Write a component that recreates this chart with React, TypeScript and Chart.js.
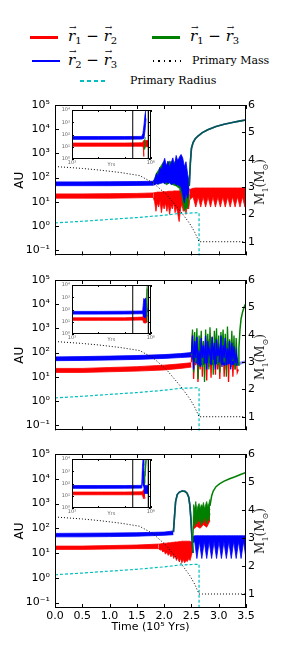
import React, { useEffect, useRef } from 'react';
import { Chart, registerables } from 'chart.js';

Chart.register(...registerables);
Chart.defaults.font.family = "'DejaVu Sans', sans-serif";
Chart.defaults.color = '#000';

// ---------------- axis ticks ----------------
const timeTickValues = [0, 0.5, 1, 1.5, 2, 2.5, 3, 3.5];
const auTickValues = [0.1, 1, 10, 100, 1000, 10000, 100000];
const auTickLabels = ['10⁻¹', '10⁰', '10¹', '10²', '10³', '10⁴', '10⁵'];
const massTickValues = [1, 2, 3, 4, 5, 6];
const insetAuTicks = [1, 10, 100, 1000, 10000];
const insetAuLabels = ['10⁰', '10¹', '10²', '10³', '10⁴'];
const insetYrTicks = [1e3, 1e6];
const insetYrLabels = ['10³', '10⁶'];
const insetYrMinorTicks = [1e3, 1e4, 1e5, 1e6];
const insetRectYrs = [2.05e5, 8.1e5];

// ---------------- shared primary star ----------------
const massT = [0, 0.5, 0.82, 1.2, 1.55, 1.8, 2.04, 2.29, 2.47, 2.56, 2.64, 2.7, 3.0, 3.5];
const massSun = [3.75, 3.68, 3.62, 3.53, 3.42, 3.15, 2.73, 2.14, 1.66, 1.35, 1.0, 1.0, 1.0, 1.0];
const radiusT = [0, 0.5, 1.0, 1.5, 2.0, 2.3, 2.64, 2.64];
const radiusAU = [1.32, 1.55, 1.85, 2.2, 2.75, 3.3, 3.5, 0.01];

// ---------------- panel 1 ----------------
const p1RedCalmT = [0, 0.5, 1.0, 1.5, 1.8];
const p1RedCalmLo = [14, 14, 14, 14.5, 15];
const p1RedCalmHi = [21, 21, 21.5, 22, 23];
const p1RedChaosT = [1.8, 1.825, 1.85, 1.875, 1.9, 1.925, 1.95, 1.975, 2.0, 2.025, 2.05, 2.075, 2.1, 2.125, 2.15, 2.175, 2.2, 2.225, 2.25, 2.275, 2.3, 2.325, 2.35, 2.375, 2.4, 2.425, 2.45, 2.47];
const p1RedChaosLo = [15, 10, 4, 9, 6, 11, 3.5, 8, 5, 9, 4, 8, 3, 7, 5, 9, 3.5, 6, 3, 1.5, 5, 8, 4, 10, 3, 8, 5, 12];
const p1RedChaosHi = [23, 24, 24, 25, 25, 25, 25, 26, 26, 26, 26, 27, 27, 27, 27, 28, 28, 28, 28, 28, 29, 30, 70, 160, 50, 30, 30, 32];
const p1RedSawT = [2.47, 2.53, 2.58, 2.625, 2.67, 2.715, 2.76, 2.805, 2.85, 2.895, 2.94, 2.985, 3.03, 3.075, 3.12, 3.165, 3.21, 3.255, 3.3, 3.345, 3.39, 3.435, 3.48, 3.5];
const p1RedSawLo = [12, 16, 6, 16, 6, 16, 6, 16, 6, 16, 6, 16, 6, 16, 6, 16, 6, 16, 6, 16, 6, 16, 6, 12];
const p1RedSawHi = [32, 36, 37, 37, 37, 37, 37, 37, 37, 37, 37, 37, 37, 37, 37, 37, 37, 37, 37, 37, 37, 37, 37, 37];
const p1BlueCalmT = [0, 0.5, 1.0, 1.5, 1.8];
const p1BlueCalmLo = [46, 46, 46, 47, 48];
const p1BlueCalmHi = [66, 66, 67, 68, 70];
const p1BlueChaosT = [1.8, 1.83, 1.86, 1.89, 1.92, 1.95, 1.98, 2.01, 2.04, 2.07, 2.1, 2.13, 2.16, 2.19, 2.22, 2.25, 2.28, 2.31, 2.34, 2.37, 2.4, 2.43, 2.46];
const p1BlueChaosLo = [48, 50, 55, 52, 60, 58, 62, 55, 66, 58, 62, 50, 56, 60, 48, 52, 45, 40, 20, 9, 25, 14, 35];
const p1BlueChaosHi = [70, 90, 150, 110, 260, 200, 380, 620, 300, 480, 260, 420, 650, 300, 820, 480, 700, 900, 650, 280, 450, 140, 60];
const p1GreenChaosT = [1.2, 1.5, 1.8, 1.86, 1.92, 1.98, 2.04, 2.1, 2.16, 2.22, 2.28, 2.32, 2.35, 2.37, 2.39, 2.41, 2.43, 2.46];
const p1GreenChaosLo = [50, 52, 55, 60, 55, 70, 50, 60, 50, 45, 35, 20, 8, 4, 5, 6, 5, 20];
const p1GreenChaosHi = [56, 58, 62, 150, 250, 420, 300, 480, 380, 500, 560, 300, 60, 30, 12, 20, 40, 45];
const p1EscapeT = [2.46, 2.48, 2.5, 2.53, 2.57, 2.62, 2.7, 2.8, 2.95, 3.1, 3.25, 3.4, 3.5];
const p1EscapeAU = [45, 400, 1600, 2800, 4000, 5200, 7200, 9500, 13000, 16000, 19000, 22000, 24000];

// ---------------- panel 2 ----------------
const p2CalmT = [0, 0.5, 1.0, 1.5, 2.0, 2.3, 2.5];
const p2RedCalmLo = [15, 15, 16, 17, 19, 22, 25];
const p2RedCalmHi = [22, 22, 24, 26, 30, 34, 38];
const p2BlueCalmLo = [46, 47, 49, 52, 57, 62, 66];
const p2BlueCalmHi = [66, 68, 71, 75, 82, 90, 100];
const p2ChaosT = [2.50, 2.52, 2.54, 2.56, 2.58, 2.60, 2.62, 2.64, 2.66, 2.68, 2.70, 2.72, 2.74, 2.76, 2.78, 2.80, 2.82, 2.84, 2.86, 2.88, 2.90, 2.92, 2.94, 2.96, 2.98, 3.00, 3.02, 3.04, 3.06, 3.08, 3.10, 3.12, 3.14, 3.16, 3.18, 3.20, 3.22, 3.24, 3.26, 3.28, 3.30, 3.32, 3.34, 3.36];
const p2GreenZigAU = [80, 900, 15, 700, 40, 1000, 8, 500, 60, 800, 25, 300, 6, 900, 50, 600, 20, 1100, 70, 400, 12, 800, 90, 1000, 30, 500, 15, 700, 120, 900, 40, 600, 10, 1200, 60, 350, 25, 800, 45, 500, 20, 400, 35, 30];
const p2BlueZigAU = [90, 500, 20, 300, 60, 450, 30, 120, 25, 400, 60, 200, 35, 500, 20, 300, 80, 150, 30, 450, 50, 250, 20, 350, 70, 150, 40, 500, 25, 200, 60, 400, 30, 150, 45, 300, 20, 250, 50, 180, 35, 100, 40, 35];
const p2RedZigAU = [40, 600, 8, 200, 30, 400, 6, 150, 20, 500, 10, 250, 40, 120, 7, 350, 25, 200, 9, 450, 30, 150, 12, 300, 20, 100, 8, 400, 30, 250, 10, 150, 20, 300, 6, 200, 25, 150, 10, 120, 20, 80, 15, 20];
const p2BlueBandT = [2.5, 2.6, 2.7, 2.8, 2.9, 3.0, 3.1, 3.2, 3.3, 3.36];
const p2BlueBandLo = [60, 35, 30, 40, 32, 38, 30, 35, 30, 30];
const p2BlueBandHi = [100, 90, 110, 80, 100, 90, 120, 85, 90, 45];
const p2BlueTailT = [3.36, 3.42, 3.5];
const p2BlueTailLo = [30, 34, 40];
const p2BlueTailHi = [38, 42, 46];
const p2EscapeT = [3.36, 3.37, 3.39, 3.41, 3.44, 3.47, 3.5];
const p2EscapeAU = [30, 150, 900, 2500, 5000, 8000, 11000];

// ---------------- panel 3 ----------------
const p3RedCalmT = [0, 0.5, 1.0, 1.5, 1.9];
const p3RedCalmLo = [14, 14, 14.5, 15, 15];
const p3RedCalmHi = [19, 19, 20, 21, 23];
const p3RedChaosT = [1.9, 1.925, 1.95, 1.975, 2.0, 2.025, 2.05, 2.075, 2.1, 2.125, 2.15, 2.175, 2.2, 2.225, 2.25, 2.275, 2.3, 2.325, 2.35, 2.375, 2.4, 2.425, 2.45, 2.475, 2.5, 2.52];
const p3RedChaosLo = [15, 13, 14, 11, 12, 9, 11, 8, 10, 7, 9, 6, 8, 5, 7, 4.5, 6, 4, 5.5, 4, 5, 4.5, 6, 5, 8, 12];
const p3RedChaosHi = [23, 23, 24, 24, 25, 25, 25, 26, 26, 26, 27, 27, 28, 28, 28, 29, 29, 30, 30, 30, 30, 30, 30, 30, 28, 25];
const p3RedHighT = [2.53, 2.6, 2.66, 2.72, 2.78, 2.84];
const p3RedHighLo = [90, 120, 100, 140, 110, 200];
const p3RedHighHi = [300, 350, 280, 400, 320, 600];
const p3BlueCalmT = [0, 0.5, 1.0, 1.5, 2.0, 2.17];
const p3BlueCalmLo = [45, 45, 46, 48, 52, 55];
const p3BlueCalmHi = [62, 63, 64, 66, 70, 78];
const p3ArcT = [2.17, 2.19, 2.21, 2.24, 2.28, 2.33, 2.38, 2.42, 2.45, 2.47, 2.49, 2.51, 2.53];
const p3ArcAU = [70, 300, 1200, 2300, 2900, 3200, 3100, 2600, 1800, 900, 250, 40, 10];
const p3BlueSawT = [2.52, 2.56, 2.6, 2.645, 2.69, 2.735, 2.78, 2.825, 2.87, 2.915, 2.96, 3.005, 3.05, 3.095, 3.14, 3.185, 3.23, 3.275, 3.32, 3.365, 3.41, 3.455, 3.5];
const p3BlueSawLo = [25, 29, 6, 29, 6, 29, 6, 29, 6, 29, 6, 29, 6, 29, 6, 29, 6, 29, 6, 29, 6, 29, 6];
const p3BlueSawHi = [45, 50, 50, 50, 50, 50, 50, 50, 50, 50, 50, 50, 50, 50, 50, 50, 50, 50, 50, 50, 50, 50, 50];
const p3GreenChaosT = [2.52, 2.54, 2.56, 2.58, 2.6, 2.62, 2.64, 2.66, 2.68, 2.7, 2.72, 2.74, 2.76, 2.78, 2.8, 2.82, 2.84];
const p3GreenChaosLo = [12, 200, 120, 250, 150, 300, 180, 220, 130, 260, 160, 300, 200, 150, 280, 200, 400];
const p3GreenChaosHi = [14, 900, 600, 1200, 500, 800, 1000, 600, 900, 700, 1100, 600, 900, 1200, 700, 1000, 1500];
const p3EscapeT = [2.84, 2.87, 2.9, 2.95, 3.02, 3.1, 3.2, 3.3, 3.4, 3.5];
const p3EscapeAU = [800, 2000, 3200, 4800, 6300, 8000, 10000, 12000, 14800, 17800];

// ---------------- insets (years, log) ----------------
const in1BlueYr = [1e3, 1e4, 1e5, 4.5e5, 5.0e5, 5.5e5, 6.0e5, 6.6e5];
const in1BlueLo = [40, 40, 41, 42, 45, 50, 200, 2000];
const in1BlueHi = [68, 68, 68, 70, 120, 600, 4000, 12000];
const in1RedYr = [1e3, 1e4, 1e5, 4.8e5, 5.2e5, 5.3e5, 5.5e5, 6.5e5, 8e5];
const in1RedLo = [11, 11, 11, 11, 8, 1.6, 9, 10, 10];
const in1RedHi = [20, 20, 20, 21, 30, 30, 32, 32, 32];
const in1GreenYr = [5.4e5, 5.8e5, 6.2e5];
const in1GreenLo = [8, 6, 10];
const in1GreenHi = [25, 35, 60];

const in2BlueYr = [1e3, 1e4, 1e5, 4.9e5, 5.4e5, 5.9e5, 6.4e5, 7.0e5, 7.5e5];
const in2BlueLo = [42, 42, 43, 45, 25, 20, 25, 30, 32];
const in2BlueHi = [70, 70, 72, 75, 800, 600, 900, 300, 60];
const in2RedYr = [1e3, 1e4, 1e5, 4.9e5, 5.4e5, 6.4e5, 7.5e5];
const in2RedLo = [13, 13, 13, 14, 8, 8, 10];
const in2RedHi = [21, 21, 21, 24, 40, 35, 30];
const in2GreenYr = [6.6e5, 7.0e5, 7.3e5];
const in2GreenLo = [10, 300, 5000];
const in2GreenHi = [200, 3000, 12000];

const in3BlueYr = [1e3, 1e4, 1e5, 4.5e5, 4.8e5, 5.1e5, 5.4e5, 5.7e5, 7e5, 8.5e5];
const in3BlueLo = [40, 40, 41, 42, 100, 1000, 60, 15, 15, 15];
const in3BlueHi = [68, 68, 68, 70, 2000, 12000, 3000, 70, 70, 70];
const in3RedYr = [1e3, 1e4, 1e5, 4.8e5, 5.2e5, 5.6e5, 6e5];
const in3RedLo = [12, 12, 12, 12, 6, 6, 8];
const in3RedHi = [20, 20, 20, 21, 30, 30, 25];
const in3GreenYr = [5.6e5, 6.0e5, 6.4e5, 6.8e5];
const in3GreenLo = [100, 300, 2000, 8000];
const in3GreenHi = [400, 2000, 8000, 12000];

// ---------------- styles ----------------
const RED = '#ff0000';
const BLUE = '#0000ff';
const GREEN = '#008000';
const GREEN_OVER = 'rgba(0,128,0,0.72)';
const LIGHT_BLUE = 'rgba(70,70,255,0.6)';
const CYAN = '#00bfbf';

type Seg = { t: number[]; lo: number[]; hi?: number[]; color: string; z: number; w?: number; axis?: string; dash?: number[] };

function segDatasets(s: Seg) {
  const pts = (v: number[]) => s.t.map((x, i) => ({ x, y: v[i] }));
  const base: any = {
    borderColor: s.color, borderWidth: s.w ?? 0.8, pointRadius: 0, tension: 0,
    order: 100 - s.z, yAxisID: s.axis ?? 'y', borderDash: s.dash ?? [],
  };
  if (!s.hi) return [{ ...base, data: pts(s.lo), fill: false }];
  return [
    { ...base, data: pts(s.lo), fill: false },
    { ...base, data: pts(s.hi), fill: '-1', backgroundColor: s.color },
  ];
}

function starSegs(): Seg[] {
  return [
    { t: massT, lo: massSun, color: '#000', z: 20, w: 1, axis: 'y1', dash: [1, 2] },
    { t: radiusT, lo: radiusAU, color: CYAN, z: 19, w: 1.2, dash: [3, 2] },
  ];
}

const panel1Segs: Seg[] = [
  { t: p1RedCalmT, lo: p1RedCalmLo, hi: p1RedCalmHi, color: RED, z: 1 },
  { t: p1RedChaosT, lo: p1RedChaosLo, hi: p1RedChaosHi, color: RED, z: 1 },
  { t: p1RedSawT, lo: p1RedSawLo, hi: p1RedSawHi, color: RED, z: 1 },
  { t: p1GreenChaosT, lo: p1GreenChaosLo, hi: p1GreenChaosHi, color: GREEN, z: 2 },
  { t: p1BlueCalmT, lo: p1BlueCalmLo, hi: p1BlueCalmHi, color: BLUE, z: 3 },
  { t: p1BlueChaosT, lo: p1BlueChaosLo, hi: p1BlueChaosHi, color: BLUE, z: 3 },
  { t: p1EscapeT, lo: p1EscapeAU, color: BLUE, z: 4, w: 1.6 },
  { t: p1EscapeT, lo: p1EscapeAU, color: GREEN_OVER, z: 5, w: 1.6 },
  ...starSegs(),
];

const panel2Segs: Seg[] = [
  { t: p2CalmT, lo: p2RedCalmLo, hi: p2RedCalmHi, color: RED, z: 1 },
  { t: p2ChaosT, lo: p2RedZigAU, color: RED, z: 1, w: 1.3 },
  { t: p2CalmT, lo: p2BlueCalmLo, hi: p2BlueCalmHi, color: BLUE, z: 3 },
  { t: p2BlueBandT, lo: p2BlueBandLo, hi: p2BlueBandHi, color: BLUE, z: 3 },
  { t: p2BlueTailT, lo: p2BlueTailLo, hi: p2BlueTailHi, color: LIGHT_BLUE, z: 3 },
  { t: p2ChaosT, lo: p2GreenZigAU, color: GREEN, z: 3.5, w: 1.3 },
  { t: p2ChaosT, lo: p2BlueZigAU, color: BLUE, z: 4, w: 1.3 },
  { t: p2EscapeT, lo: p2EscapeAU, color: GREEN, z: 5, w: 1.5 },
  ...starSegs(),
];

const panel3Segs: Seg[] = [
  { t: p3RedCalmT, lo: p3RedCalmLo, hi: p3RedCalmHi, color: RED, z: 1 },
  { t: p3RedChaosT, lo: p3RedChaosLo, hi: p3RedChaosHi, color: RED, z: 1 },
  { t: p3RedHighT, lo: p3RedHighLo, hi: p3RedHighHi, color: RED, z: 1 },
  { t: p3BlueCalmT, lo: p3BlueCalmLo, hi: p3BlueCalmHi, color: BLUE, z: 3 },
  { t: p3BlueSawT, lo: p3BlueSawLo, hi: p3BlueSawHi, color: BLUE, z: 3 },
  { t: p3ArcT, lo: p3ArcAU, color: BLUE, z: 4, w: 1.6 },
  { t: p3ArcT, lo: p3ArcAU, color: GREEN_OVER, z: 5, w: 1.6 },
  { t: p3GreenChaosT, lo: p3GreenChaosLo, hi: p3GreenChaosHi, color: GREEN, z: 5 },
  { t: p3EscapeT, lo: p3EscapeAU, color: GREEN, z: 5, w: 1.5 },
  ...starSegs(),
];

const inset1Segs: Seg[] = [
  { t: in1RedYr, lo: in1RedLo, hi: in1RedHi, color: RED, z: 1 },
  { t: in1BlueYr, lo: in1BlueLo, hi: in1BlueHi, color: BLUE, z: 2 },
  { t: in1GreenYr, lo: in1GreenLo, hi: in1GreenHi, color: GREEN, z: 3 },
];
const inset2Segs: Seg[] = [
  { t: in2RedYr, lo: in2RedLo, hi: in2RedHi, color: RED, z: 1 },
  { t: in2BlueYr, lo: in2BlueLo, hi: in2BlueHi, color: BLUE, z: 2 },
  { t: in2GreenYr, lo: in2GreenLo, hi: in2GreenHi, color: GREEN, z: 3 },
];
const inset3Segs: Seg[] = [
  { t: in3RedYr, lo: in3RedLo, hi: in3RedHi, color: RED, z: 1 },
  { t: in3BlueYr, lo: in3BlueLo, hi: in3BlueHi, color: BLUE, z: 2 },
  { t: in3GreenYr, lo: in3GreenLo, hi: in3GreenHi, color: GREEN, z: 3 },
];

function framePlugin(o: { bg?: string; len: number; xTicks: number[]; yTicks: number[]; y1Ticks?: number[] }) {
  return {
    id: 'frameInline',
    beforeDraw(chart: any) {
      if (!o.bg) return;
      const { ctx, chartArea: a } = chart;
      ctx.save();
      ctx.fillStyle = o.bg;
      ctx.fillRect(a.left, a.top, a.right - a.left, a.bottom - a.top);
      ctx.restore();
    },
    afterDatasetsDraw(chart: any) {
      const { ctx, chartArea: a, scales } = chart;
      const L = o.len;
      ctx.save();
      ctx.strokeStyle = '#000';
      ctx.lineWidth = 1;
      ctx.beginPath();
      o.xTicks.forEach((v) => {
        const p = Math.round(scales.x.getPixelForValue(v)) + 0.5;
        ctx.moveTo(p, a.bottom); ctx.lineTo(p, a.bottom - L);
        ctx.moveTo(p, a.top); ctx.lineTo(p, a.top + L);
      });
      o.yTicks.forEach((v) => {
        const p = Math.round(scales.y.getPixelForValue(v)) + 0.5;
        ctx.moveTo(a.left, p); ctx.lineTo(a.left + L, p);
        if (!o.y1Ticks) { ctx.moveTo(a.right, p); ctx.lineTo(a.right - L, p); }
      });
      (o.y1Ticks || []).forEach((v) => {
        const p = Math.round(scales.y1.getPixelForValue(v)) + 0.5;
        ctx.moveTo(a.right, p); ctx.lineTo(a.right - L, p);
      });
      ctx.stroke();
      ctx.strokeRect(Math.round(a.left) + 0.5, Math.round(a.top) + 0.5, Math.round(a.right - a.left) - 1, Math.round(a.bottom - a.top) - 1);
      ctx.restore();
    },
  };
}

const PANEL_H = 154;
const PAD_TOP = 12;

function MainPanel({ top, segs, showX }: { top: number; segs: Seg[]; showX: boolean }) {
  const ref = useRef<HTMLCanvasElement>(null);
  const xH = showX ? 28 : 0;
  const padBottom = showX ? 2 : 8;
  const h = PAD_TOP + PANEL_H + xH + padBottom;
  useEffect(() => {
    const chart = new Chart(ref.current as HTMLCanvasElement, {
      type: 'line',
      data: { datasets: segs.flatMap(segDatasets) as any },
      options: {
        responsive: false,
        animation: false,
        devicePixelRatio: 1,
        layout: { padding: { top: PAD_TOP, bottom: padBottom, left: 0, right: 0 } },
        plugins: { legend: { display: false }, tooltip: { enabled: false } },
        scales: {
          x: {
            type: 'linear', min: 0, max: 3.5, display: showX,
            grid: { display: false, drawTicks: false }, border: { display: false },
            afterBuildTicks: (s: any) => { s.ticks = timeTickValues.map((v) => ({ value: v })); },
            afterFit: (s: any) => { s.height = xH; },
            ticks: { autoSkip: false, maxRotation: 0, padding: 2, font: { size: 11 }, color: '#000', callback: (v: any) => Number(v).toFixed(1) },
            title: { display: showX, text: 'Time (10⁵ Yrs)', font: { size: 11 }, color: '#000', padding: { top: 0, bottom: 2 } },
          },
          y: {
            type: 'logarithmic', position: 'left', min: 0.06, max: 1e5,
            grid: { display: false, drawTicks: false }, border: { display: false },
            afterBuildTicks: (s: any) => { s.ticks = auTickValues.map((v) => ({ value: v })); },
            afterFit: (s: any) => { s.width = 55; },
            ticks: { autoSkip: false, padding: 5, font: { size: 11 }, color: '#000', callback: (_v: any, i: number) => auTickLabels[i] },
            title: { display: true, text: 'AU', font: { size: 12 }, color: '#000', padding: { top: 13, bottom: 0 } },
          },
          y1: {
            type: 'linear', position: 'right', min: 0.5, max: 6,
            grid: { display: false, drawTicks: false }, border: { display: false },
            afterBuildTicks: (s: any) => { s.ticks = massTickValues.map((v) => ({ value: v })); },
            afterFit: (s: any) => { s.width = 54; },
            ticks: { autoSkip: false, padding: 2, font: { size: 11 }, color: '#000' },
          },
        },
      } as any,
      plugins: [framePlugin({ len: 4, xTicks: timeTickValues, yTicks: auTickValues, y1Ticks: massTickValues })],
    });
    return () => chart.destroy();
  }, []);
  return (
    <canvas ref={ref} width={300} height={h}
      style={{ position: 'absolute', left: 0, top: top - PAD_TOP, width: 300, height: h }} />
  );
}

function Inset({ top, segs }: { top: number; segs: Seg[] }) {
  const ref = useRef<HTMLCanvasElement>(null);
  useEffect(() => {
    const rect: Seg = {
      t: [insetRectYrs[0], insetRectYrs[0], insetRectYrs[1], insetRectYrs[1]],
      lo: [1, 1e4, 1e4, 1],
      color: '#000', z: 10, w: 1,
    };
    const chart = new Chart(ref.current as HTMLCanvasElement, {
      type: 'line',
      data: { datasets: [...segs, rect].flatMap(segDatasets) as any },
      options: {
        responsive: false,
        animation: false,
        devicePixelRatio: 1,
        layout: { padding: { top: 4, bottom: 2, left: 0, right: 5 } },
        plugins: { legend: { display: false }, tooltip: { enabled: false } },
        scales: {
          x: {
            type: 'logarithmic', min: 1e3, max: 1e6,
            grid: { display: false, drawTicks: false }, border: { display: false },
            afterBuildTicks: (s: any) => { s.ticks = insetYrTicks.map((v) => ({ value: v })); },
            afterFit: (s: any) => { s.height = 10; },
            ticks: { autoSkip: false, maxRotation: 0, padding: 1, font: { size: 5 }, color: '#666', callback: (_v: any, i: number) => insetYrLabels[i] },
            title: { display: true, text: 'Yrs', font: { size: 5 }, color: '#666', padding: { top: 0, bottom: 1 } },
          },
          y: {
            type: 'logarithmic', min: 1, max: 1e4,
            grid: { display: false, drawTicks: false }, border: { display: false },
            afterBuildTicks: (s: any) => { s.ticks = insetAuTicks.map((v) => ({ value: v })); },
            afterFit: (s: any) => { s.width = 16; },
            ticks: { autoSkip: false, padding: 2, font: { size: 5 }, color: '#666', callback: (_v: any, i: number) => insetAuLabels[i] },
          },
        },
      } as any,
      plugins: [framePlugin({ bg: '#ffffff', len: 2, xTicks: insetYrMinorTicks, yTicks: insetAuTicks })],
    });
    return () => chart.destroy();
  }, []);
  return (
    <canvas ref={ref} width={100} height={66}
      style={{ position: 'absolute', left: 56, top: top, width: 100, height: 66 }} />
  );
}

function MassLabel({ top }: { top: number }) {
  return (
    <div style={{
      position: 'absolute', left: 263, top: top + PANEL_H / 2, transform: 'translate(-50%, -50%) rotate(-90deg)',
      fontFamily: "'DejaVu Serif', serif", fontSize: 12, whiteSpace: 'nowrap', color: '#222', lineHeight: '14px',
    }}>
      M<sub style={{ fontSize: 8 }}>1</sub>(M<sub style={{ fontSize: 8 }}>⊙</sub>)
    </div>
  );
}

function VecR({ n }: { n: string }) {
  return (
    <span style={{ position: 'relative', display: 'inline-block' }}>
      <span style={{ position: 'absolute', left: 1, top: -2, fontSize: 9, lineHeight: '9px', fontStyle: 'normal' }}>→</span>
      r<sub style={{ fontSize: 10, fontStyle: 'normal', verticalAlign: '-3px', lineHeight: 0 }}>{n}</sub>
    </span>
  );
}

function MathLabel({ a, b, left, cy }: { a: string; b: string; left: number; cy: number }) {
  return (
    <div style={{
      position: 'absolute', left, top: cy - 11, height: 22, lineHeight: '22px', whiteSpace: 'nowrap',
      fontFamily: "'DejaVu Serif', serif", fontStyle: 'italic', fontSize: 15, color: '#000',
    }}>
      <VecR n={a} /><span style={{ fontStyle: 'normal' }}> − </span><VecR n={b} />
    </div>
  );
}

function TextLabel({ text, left, cy }: { text: string; left: number; cy: number }) {
  return (
    <div style={{
      position: 'absolute', left, top: cy - 8, height: 16, lineHeight: '16px', whiteSpace: 'nowrap',
      fontFamily: "'DejaVu Serif', serif", fontSize: 11, color: '#000',
    }}>{text}</div>
  );
}

function Swatch({ left, cy, style }: { left: number; cy: number; style: React.CSSProperties }) {
  const h = (style.height as number) || 2;
  return <div style={{ position: 'absolute', left, top: cy - h / 2, width: 28, ...style }} />;
}

function Legend() {
  return (
    <>
      <Swatch left={30} cy={37} style={{ height: 3, background: RED }} />
      <MathLabel a="1" b="2" left={68} cy={36} />
      <Swatch left={152} cy={37} style={{ height: 3, background: GREEN }} />
      <MathLabel a="1" b="3" left={190} cy={36} />
      <Swatch left={32} cy={61} style={{ height: 1.5, background: BLUE }} />
      <MathLabel a="2" b="3" left={68} cy={60} />
      <Swatch left={153} cy={61} style={{ height: 1.5, background: 'repeating-linear-gradient(to right, #000 0 1.5px, transparent 1.5px 5.5px)' }} />
      <TextLabel text="Primary Mass" left={192} cy={61} />
      <Swatch left={80} cy={81} style={{ height: 2, background: `repeating-linear-gradient(to right, ${CYAN} 0 4px, transparent 4px 7px)` }} />
      <TextLabel text="Primary Radius" left={130} cy={81} />
    </>
  );
}

const panelTops = [105, 280, 454];

export default function App() {
  return (
    <div style={{ position: 'absolute', left: 0, top: 0, width: 300, height: 662, background: '#fff', overflow: 'hidden' }}>
      <Legend />
      <MainPanel top={panelTops[0]} segs={panel1Segs} showX={false} />
      <MainPanel top={panelTops[1]} segs={panel2Segs} showX={false} />
      <MainPanel top={panelTops[2]} segs={panel3Segs} showX={true} />
      <Inset top={panelTops[0]} segs={inset1Segs} />
      <Inset top={panelTops[1]} segs={inset2Segs} />
      <Inset top={panelTops[2]} segs={inset3Segs} />
      <MassLabel top={panelTops[0]} />
      <MassLabel top={panelTops[1]} />
      <MassLabel top={panelTops[2]} />
    </div>
  );
}
